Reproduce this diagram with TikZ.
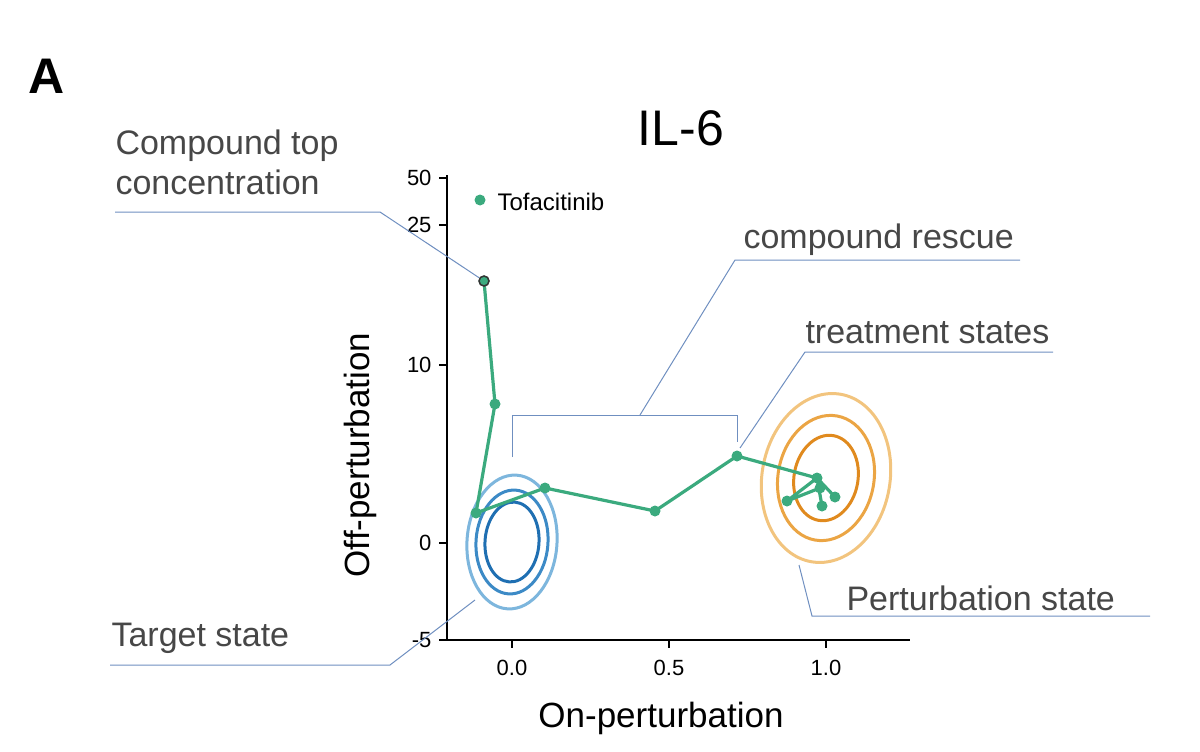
\documentclass[tikz,border=0pt]{standalone}
\usepackage{fontspec}
\setmainfont{Liberation Sans}
\definecolor{gr}{HTML}{3BAA7E}
\definecolor{an}{HTML}{6F8FC0}
\definecolor{b1}{HTML}{1F6FB2}
\definecolor{b2}{HTML}{3C8AC6}
\definecolor{b3}{HTML}{7DB6DD}
\definecolor{o1}{HTML}{E08A1E}
\definecolor{o2}{HTML}{EBA544}
\definecolor{o3}{HTML}{F2C47E}
\begin{document}
\begin{tikzpicture}[x=1pt,y=-1pt,
  ann/.style={draw=an, line width=1pt},
  lbl/.style={font=\fontsize{34}{40}\selectfont, text=black!72},
  tick/.style={font=\fontsize{22}{24}\selectfont},
  gline/.style={draw=gr, line width=3.2pt, line join=round},
  gdot/.style={circle, fill=gr, inner sep=0pt, minimum size=11pt}]
\useasboundingbox (0,0) rectangle (1200,752);
\node (A) at (47,76) {\fontsize{50}{54}\selectfont\bfseries A};
\node (T) at (681,128) {\fontsize{50}{56}\selectfont IL-6};
% axes
\draw[line width=1.6pt] (447,175) -- (447,640) -- (910,640);
\foreach \y/\t in {178/50,225/25,365/10,543/0,640/-5}{
  \draw[line width=1.6pt] (439,\y) -- (447,\y);
  \node[tick, anchor=east] at (435,\y) {\t};}
\foreach \x/\t in {512/0.0,669/0.5,826/1.0}{
  \draw[line width=1.6pt] (\x,640) -- (\x,648);
  \node[tick] at (\x,668) {\t};}
\node[font=\fontsize{35}{40}\selectfont] (xl) at (661,718) {On-perturbation};
\node[font=\fontsize{35}{40}\selectfont, rotate=90] (yl) at (360,455) {Off-perturbation};
% legend
\node[gdot] (lg) at (480,200) {};
\node[anchor=west, font=\fontsize{24}{26}\selectfont] (lgt) at (494,202) {Tofacitinib};
% ellipses
\foreach \a/\b/\c in {27/40/b1, 36/52/b2, 45/67/b3}
  \draw[\c, line width=3pt, rotate around={-4:(512,542)}] (512,542) ellipse ({\a} and {\b});
\foreach \a/\b/\c in {32/43/o1, 48/63/o2, 64/85/o3}
  \draw[\c, line width=3pt, rotate around={-10:(826,478)}] (826,478) ellipse ({\a} and {\b});
% path
\node[gdot] (p1) at (484,281) {};
\node[gdot] (p2) at (495,404) {};
\node[gdot] (p3) at (476,513) {};
\node[gdot] (p4) at (545,488) {};
\node[gdot] (p5) at (655,511) {};
\node[gdot] (p6) at (737,456) {};
\node[gdot] (h) at (817,478) {};
\node[gdot] (c1) at (787,501) {};
\node[gdot] (c2) at (822,506) {};
\node[gdot] (c3) at (835,497) {};
\node[gdot] (c4) at (820,488) {};
\draw[gline] (p1.center) -- (p2.center) -- (p3.center) -- (p4.center) -- (p5.center) -- (p6.center) -- (h.center);
\draw[gline] (h.center) -- (c1.center) (h.center) -- (c2.center) (h.center) -- (c3.center) (c1.center) -- (c4.center);
\node[circle, draw=black!80, fill=gr, line width=1.5pt, inner sep=0pt, minimum size=10pt] (top) at (484,281) {};
% annotations
\node[lbl, anchor=west, align=left] (ct) at (112,162) {Compound top\\concentration};
\coordinate (a1) at (115,212); \coordinate (a2) at (380,212);
\draw[ann] (a1) -- (a2) -- (top);
\node[lbl, anchor=west] (cr) at (740,240) {compound rescue};
\coordinate (b1) at (1020,260); \coordinate (b2) at (735,260); \coordinate (b3) at (640,415);
\draw[ann] (b1) -- (b2) -- (b3);
\coordinate (k1) at (512,457); \coordinate (k2) at (512,415); \coordinate (k3) at (737,415); \coordinate (k4) at (737,442);
\draw[ann] (k1) -- (k2) -- (k3) -- (k4);
\node[lbl, anchor=west] (ts) at (802,333) {treatment states};
\coordinate (t1) at (1053,352); \coordinate (t2) at (805,352); \coordinate (t3) at (740,448);
\draw[ann] (t1) -- (t2) -- (t3);
\node[lbl, anchor=west] (ps) at (843,598) {Perturbation state};
\coordinate (q1) at (1150,616); \coordinate (q2) at (812,616); \coordinate (q3) at (799,565);
\draw[ann] (q1) -- (q2) -- (q3);
\node[lbl, anchor=west] (tg) at (108,638) {Target state};
\coordinate (r1) at (110,665); \coordinate (r2) at (390,665); \coordinate (r3) at (475,600);
\draw[ann] (r1) -- (r2) -- (r3);
\end{tikzpicture}
\end{document}
